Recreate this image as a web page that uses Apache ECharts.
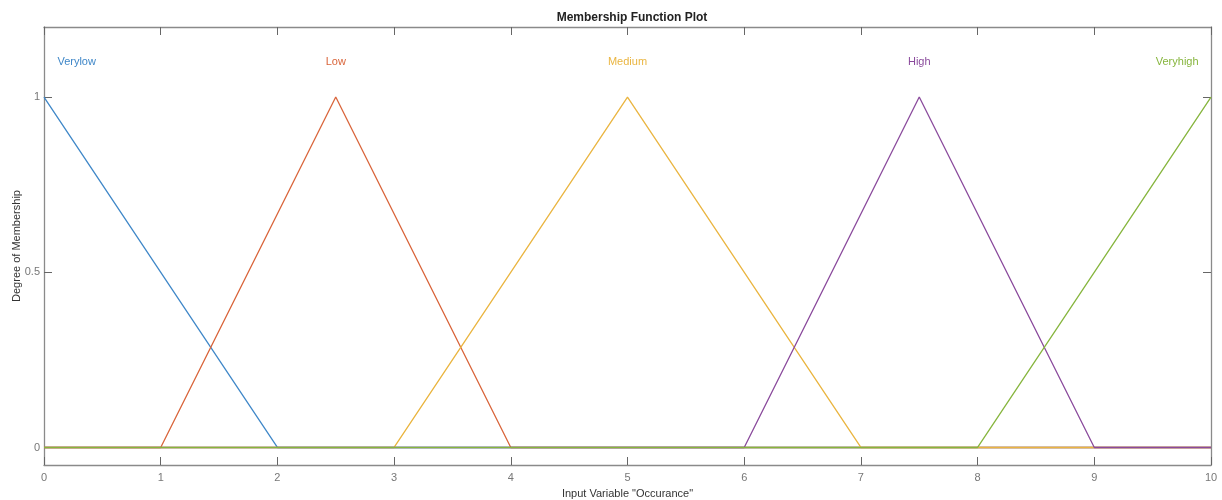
<!DOCTYPE html>
<html>
<head>
<meta charset="utf-8">
<title>Membership Function Plot</title>
<script src="https://cdn.jsdelivr.net/npm/echarts@6/dist/echarts.min.js"></script>
<style>
    html, body { margin: 0; padding: 0; background: #fff; }
    #mf_show { width: 1222px; height: 500px; }
</style>
</head>
<body>
<div id="mf_show"></div>
<script>
// membership functions (x, degree)
var names = ['Verylow', 'Low', 'Medium', 'High', 'Veryhigh'];
var verylow = [[0, 1], [2, 0], [10, 0]];
var low = [[0, 0], [1, 0], [2.5, 1], [4, 0], [10, 0]];
var medium = [[0, 0], [3, 0], [5, 1], [7, 0], [10, 0]];
var high = [[0, 0], [6, 0], [7.5, 1], [9, 0], [10, 0]];
var veryhigh = [[0, 0], [8, 0], [10, 1]];
// where the names are written
var labelX = [0.28, 2.5, 5, 7.5, 9.71];
var labelY = 1.1;
var yTicks = [0, 0.5, 1];

var colors = ['#3f87c8', '#d9643a', '#eab540', '#8a4a9c', '#86b53d'];
var curves = [verylow, low, medium, high, veryhigh];
var font = 'Arial, "Liberation Sans", sans-serif';

var series = [];
for (let i = 0; i < curves.length; i++) {
    series.push({
        name: names[i],
        type: 'line',
        data: curves[i],
        symbol: 'none',
        lineStyle: { color: colors[i], width: 1.3 },
        z: 2 + i,
        silent: true,
        markPoint: {
            symbol: 'circle',
            symbolSize: 0,
            label: {
                show: true,
                formatter: names[i],
                color: colors[i],
                fontSize: 11,
                fontFamily: font,
                position: 'inside'
            },
            data: [{ coord: [labelX[i], labelY] }]
        }
    });
}

var myChart = echarts.init(document.getElementById('mf_show'));
var axisGray = '#8a8a8a';
var option = {
    animation: false,
    title: {
        text: 'Membership Function Plot',
        left: 627,
        textAlign: 'center',
        top: 7,
        textStyle: { fontSize: 12, fontWeight: 'bold', color: '#222', fontFamily: font }
    },
    grid: { left: 44, right: 11, top: 27, bottom: 35, containLabel: false, outerBoundsMode: 'none' },
    xAxis: [{
        type: 'value',
        min: 0,
        max: 10,
        interval: 1,
        name: 'Input Variable "Occurance"',
        nameLocation: 'middle',
        nameGap: 23,
        nameTextStyle: { fontSize: 11, color: '#333', fontFamily: font },
        axisLine: { onZero: false, lineStyle: { color: axisGray, width: 1.3 } },
        axisTick: { inside: true, length: 8, lineStyle: { color: '#666' } },
        axisLabel: { color: '#777', fontSize: 11, fontFamily: font, margin: 7 },
        splitLine: { show: false }
    }, {
        type: 'value',
        position: 'top',
        min: 0,
        max: 10,
        interval: 1,
        axisLine: { onZero: false, lineStyle: { color: axisGray, width: 1.3 } },
        axisTick: { inside: true, length: 8, lineStyle: { color: '#666' } },
        axisLabel: { show: false },
        splitLine: { show: false }
    }],
    yAxis: [{
        type: 'value',
        min: -0.05,
        max: 1.2,
        name: 'Degree of Membership',
        nameLocation: 'middle',
        nameGap: 22,
        nameMoveOverlap: false,
        nameTextStyle: { fontSize: 11, color: '#333', fontFamily: font },
        axisLine: { show: true, onZero: false, lineStyle: { color: axisGray, width: 1.3 } },
        axisTick: { show: true, inside: true, length: 8, customValues: yTicks, lineStyle: { color: '#666' } },
        axisLabel: { color: '#777', fontSize: 11, fontFamily: font, margin: 4, customValues: yTicks },
        splitLine: { show: false }
    }, {
        type: 'value',
        position: 'right',
        min: -0.05,
        max: 1.2,
        axisLine: { show: true, onZero: false, lineStyle: { color: axisGray, width: 1.3 } },
        axisTick: { show: true, inside: true, length: 8, customValues: yTicks, lineStyle: { color: '#666' } },
        axisLabel: { show: false },
        splitLine: { show: false }
    }],
    series: series
};
myChart.setOption(option);
</script>
</body>
</html>
